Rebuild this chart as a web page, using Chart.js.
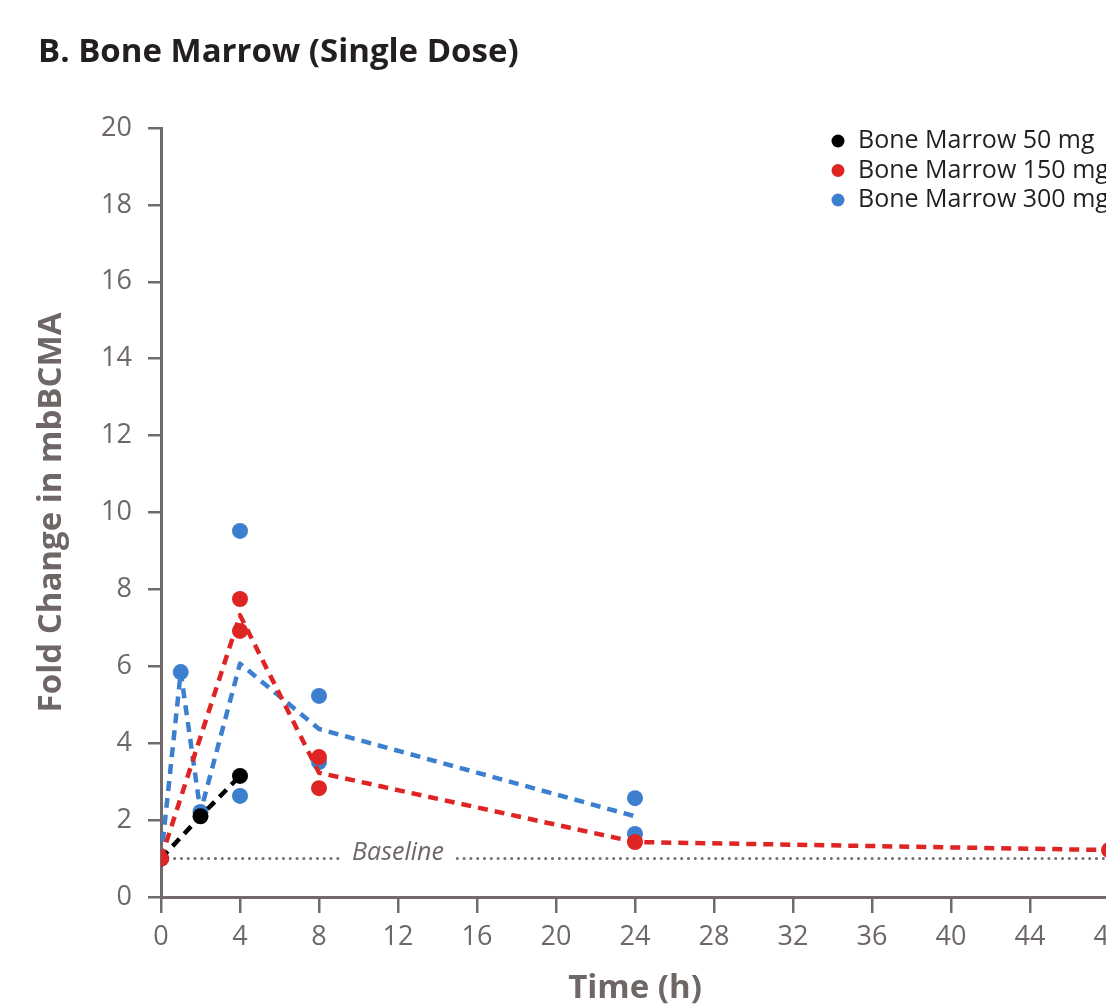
<!DOCTYPE html>
<html>
<head>
<meta charset="utf-8">
<script src="https://cdn.jsdelivr.net/npm/chart.js@4.4.1/dist/chart.umd.min.js"></script>
<style>
  html, body { margin: 0; padding: 0; background: #fff; overflow: hidden; }
  #wrap { position: relative; width: 1106px; height: 1008px; overflow: hidden; }
  #title { position: absolute; left: 38px; top: 27px; margin: 0; font: bold 33px "Open Sans", sans-serif; color: #231f20; }
  canvas { position: absolute; left: 0; top: 0; }
</style>
</head>
<body>
<div id="wrap">
  <canvas id="myChart" width="1150" height="1008"></canvas>
  <h2 id="title">B. Bone Marrow (Single Dose)</h2>
</div>
<script>
// Dados
const doseLabels = ['Bone Marrow 50 mg', 'Bone Marrow 150 mg', 'Bone Marrow 300 mg'];
const doseColors = ['#000000', '#df2424', '#3d7fcf'];

// pontos individuais
const hours50 = [0, 2, 4];
const values50 = [1, 2.1, 3.15];
const hours150 = [0, 4, 4, 8, 8, 24, 48];
const values150 = [1, 7.75, 6.92, 3.64, 2.83, 1.43, 1.22];
const hours300 = [1, 2, 4, 4, 8, 8, 24, 24];
const values300 = [5.85, 2.21, 9.52, 2.63, 5.23, 3.51, 2.57, 1.64];

// linhas de média
const meanHours50 = [0, 2, 4];
const meanValues50 = [1, 2.1, 3.15];
const meanHours150 = [0, 4, 8, 24, 48];
const meanValues150 = [1, 7.33, 3.23, 1.43, 1.22];
const meanHours300 = [0, 1, 2, 4, 8, 24];
const meanValues300 = [1, 5.85, 2.21, 6.07, 4.37, 2.1];

// linha de base
const baselineValue = 1;
const baselineGap = [9, 15];
const baselineLabel = 'Baseline';

const xTicks = [0, 4, 8, 12, 16, 20, 24, 28, 32, 36, 40, 44, 48];
const yTicks = [0, 2, 4, 6, 8, 10, 12, 14, 16, 18, 20];

const axisColor = '#716a69';
const fontFamily = '"Open Sans", sans-serif';

function toPoints(xs, ys) {
    return xs.map((x, i) => ({ x: x, y: ys[i] }));
}

function pointSet(label, xs, ys, color) {
    return {
        label: label,
        data: toPoints(xs, ys),
        showLine: false,
        pointRadius: 8,
        pointHoverRadius: 8,
        pointBackgroundColor: color,
        pointBorderWidth: 0,
        borderColor: color
    };
}

function meanSet(label, xs, ys, color) {
    return {
        label: label,
        data: toPoints(xs, ys),
        showLine: true,
        pointRadius: 0,
        borderColor: color,
        borderWidth: 4.5,
        borderDash: [10, 7],
        borderJoinStyle: 'round',
        tension: 0
    };
}

// legenda desenhada à mão, canto superior direito
const legendPlugin = {
    id: 'customLegend',
    afterDraw(chart) {
        const c = chart.ctx;
        c.save();
        c.font = '25px ' + fontFamily;
        c.textBaseline = 'middle';
        doseLabels.forEach((label, i) => {
            const y = 141 + i * 29.5;
            c.fillStyle = doseColors[i];
            c.beginPath();
            c.arc(838, y, 6.5, 0, Math.PI * 2);
            c.fill();
            c.fillStyle = '#231f20';
            c.fillText(label, 858, y);
        });
        c.restore();
    }
};

// texto "Baseline" no meio da lacuna
const baselinePlugin = {
    id: 'baselineText',
    afterDatasetsDraw(chart) {
        const c = chart.ctx;
        const xs = chart.scales.x, ys = chart.scales.y;
        c.save();
        c.font = 'italic 25px ' + fontFamily;
        c.fillStyle = '#6e6766';
        c.textAlign = 'center';
        c.textBaseline = 'middle';
        c.fillText(baselineLabel, xs.getPixelForValue((baselineGap[0] + baselineGap[1]) / 2), ys.getPixelForValue(baselineValue) - 6);
        c.restore();
    }
};

const ctx = document.getElementById('myChart').getContext('2d');
const myChart = new Chart(ctx, {
    type: 'scatter',
    data: {
        datasets: [
            pointSet(doseLabels[1], hours150, values150, doseColors[1]),
            meanSet(doseLabels[1] + ' mean', meanHours150, meanValues150, doseColors[1]),
            pointSet(doseLabels[0], hours50, values50, doseColors[0]),
            meanSet(doseLabels[0] + ' mean', meanHours50, meanValues50, doseColors[0]),
            pointSet(doseLabels[2], hours300, values300, doseColors[2]),
            meanSet(doseLabels[2] + ' mean', meanHours300, meanValues300, doseColors[2]),
            {
                label: baselineLabel,
                data: [
                    { x: 0, y: baselineValue },
                    { x: baselineGap[0], y: baselineValue },
                    { x: (baselineGap[0] + baselineGap[1]) / 2, y: null },
                    { x: baselineGap[1], y: baselineValue },
                    { x: 48, y: baselineValue }
                ],
                showLine: true,
                spanGaps: false,
                pointRadius: 0,
                borderColor: '#767070',
                borderWidth: 3,
                borderDash: [0.1, 6.7],
                borderCapStyle: 'round'
            }
        ]
    },
    options: {
        responsive: false,
        animation: false,
        devicePixelRatio: 1,
        layout: { padding: { left: 0, top: 128, right: 41, bottom: 0 } },
        plugins: {
            legend: { display: false },
            tooltip: { enabled: false }
        },
        scales: {
            x: {
                type: 'linear',
                min: 0,
                max: 48,
                afterBuildTicks: (scale) => { scale.ticks = xTicks.map(v => ({ value: v })); },
                afterFit: (scale) => { scale.height = 111; },
                border: { color: axisColor, width: 3 },
                grid: { drawOnChartArea: false, drawTicks: true, tickLength: 16, color: axisColor, lineWidth: 2.5 },
                ticks: { color: '#6e6766', font: { family: fontFamily, size: 27 }, padding: 8, maxRotation: 0 },
                title: { display: true, text: 'Time (h)', color: '#6e6766', font: { family: fontFamily, size: 33, weight: 'bold' }, padding: 0 }
            },
            y: {
                type: 'linear',
                min: 0,
                max: 20,
                afterBuildTicks: (scale) => { scale.ticks = yTicks.map(v => ({ value: v })); },
                afterFit: (scale) => { scale.width = 161; },
                border: { color: axisColor, width: 3 },
                grid: { drawOnChartArea: false, drawTicks: true, tickLength: 13, color: axisColor, lineWidth: 2.5 },
                ticks: { color: '#6e6766', font: { family: fontFamily, size: 27 }, padding: 16 },
                title: { display: true, text: 'Fold Change in mbBCMA', color: '#6e6766', font: { family: fontFamily, size: 33, weight: 'bold' }, padding: { top: 32, bottom: 0 } }
            }
        }
    },
    plugins: [baselinePlugin, legendPlugin]
});
</script>
</body>
</html>
